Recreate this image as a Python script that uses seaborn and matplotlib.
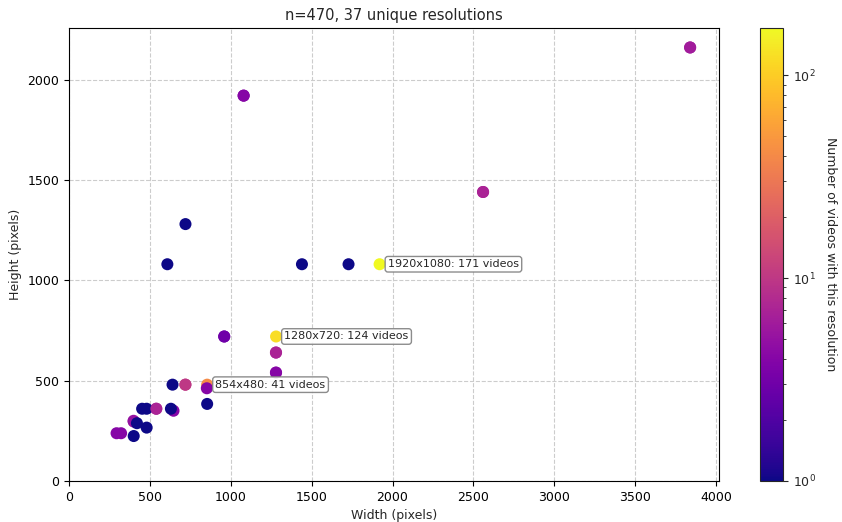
import numpy as np
import pandas as pd
import matplotlib
matplotlib.use("Agg")
import matplotlib.pyplot as plt
import seaborn as sns
from matplotlib.colors import LogNorm
from matplotlib.cm import ScalarMappable

# resolutions (width, height) and number of videos; overlapped ones listed first
widths = [3839, 2559, 1279, 719, 539, 1079, 1279, 959, 399,
          3840, 1080, 2560, 720, 608, 1440, 1728, 1920, 1280, 960,
          1280, 1280, 854, 852, 640, 720, 854, 646, 630, 452, 480,
          540, 400, 420, 480, 400, 294, 322]
heights = [2160, 1440, 640, 480, 360, 1920, 540, 720, 300,
           2160, 1920, 1440, 1280, 1080, 1080, 1080, 1080, 720, 720,
           640, 540, 480, 462, 480, 480, 384, 350, 360, 360, 360,
           360, 296, 288, 266, 224, 238, 238]
counts = [6, 7, 7, 10, 7, 4, 4, 3, 5,
          6, 4, 7, 1, 1, 1, 1, 171, 124, 3,
          7, 4, 41, 4, 1, 10, 1, 4, 1, 1, 1,
          7, 5, 1, 1, 1, 4, 4]
labelled = [(1920, 1080, 171), (1280, 720, 124), (854, 480, 41)]

df = pd.DataFrame({"w": widths, "h": heights, "n": counts})
total = int(df["n"].sum())

sns.set_style("white")
plt.rcParams["font.family"] = ["DejaVu Sans"]

fig = plt.figure(figsize=(8.42, 5.22), dpi=100)
ax = fig.add_axes([69 / 842, 1 - 481 / 522, 650 / 842, 453 / 522])
cax = fig.add_axes([760 / 842, 1 - 481 / 522, 23 / 842, 453 / 522])

norm = LogNorm(vmin=1, vmax=max(counts))
sns.scatterplot(data=df, x="w", y="h", hue="n", hue_norm=norm, palette="plasma",
                s=75, linewidth=0, edgecolor="none", legend=False, ax=ax, zorder=3)

for w, h, n in labelled:
    ax.annotate(f"{w}x{h}: {n} videos", xy=(w, h), xytext=(6, 0),
                textcoords="offset points", fontsize=8, va="center", ha="left",
                bbox=dict(boxstyle="round,pad=0.25", fc="white", ec="gray", alpha=0.9),
                zorder=4)

ax.set_xlim(0, 4018)
ax.set_ylim(0, 2257)
ax.set_xticks(np.arange(0, 4001, 500))
ax.set_yticks(np.arange(0, 2001, 500))
ax.grid(True, linestyle="--", color="#cccccc", linewidth=0.8, zorder=0)
ax.set_axisbelow(True)
for sp in ax.spines.values():
    sp.set_visible(True)
    sp.set_color("black")
    sp.set_linewidth(0.8)
ax.tick_params(axis="both", which="both", direction="out", length=3.5, width=0.8,
               labelsize=9, bottom=True, left=True, colors="black")
ax.set_xlabel("Width (pixels)", fontsize=9)
ax.set_ylabel("Height (pixels)", fontsize=9)
ax.set_title(f"n={total}, {len(counts)} unique resolutions", fontsize=10.5)

sm = ScalarMappable(norm=norm, cmap="plasma")
cb = fig.colorbar(sm, cax=cax)
cb.set_label("Number of videos with this resolution", rotation=270, labelpad=15, fontsize=9)
cb.ax.tick_params(labelsize=9)
cb.outline.set_linewidth(0.8)

fig.savefig("out.png", dpi=100)
